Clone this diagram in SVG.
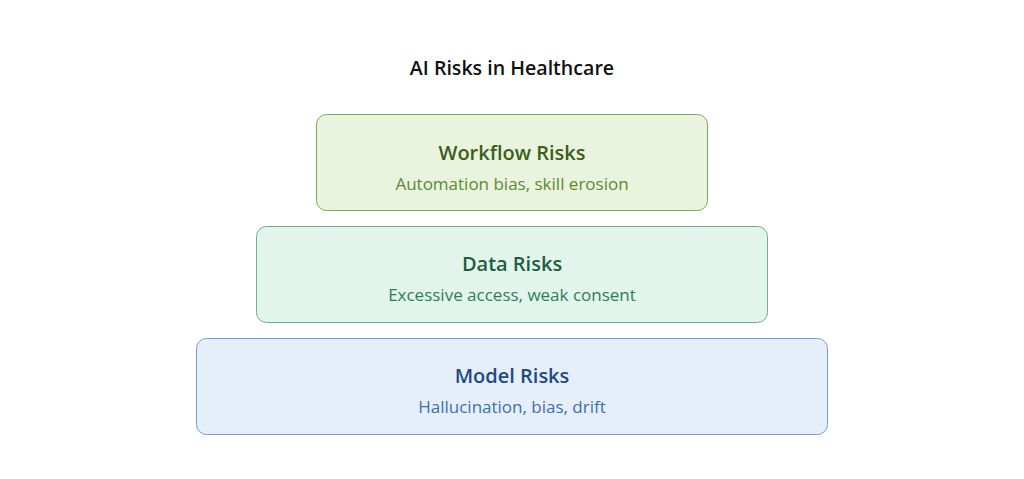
<svg xmlns="http://www.w3.org/2000/svg" width="1024" height="479" viewBox="0 0 1024 479">
<style>
text{font-family:"Open Sans","Noto Sans","DejaVu Sans",sans-serif;text-anchor:middle}
.t{font-size:20px;font-weight:600}
.s{font-size:17px}
.title{font-size:19.6px;font-weight:600;fill:#111}
</style>
<rect width="1024" height="479" fill="#fff"/>
<text class="title" x="512" y="75">AI Risks in Healthcare</text>
<g id="workflow">
<rect x="316.5" y="114.5" width="391" height="96" rx="10" fill="#eaf3dd" stroke="#7ea85a"/>
<text class="t" x="512" y="160" fill="#3a5e1c">Workflow Risks</text>
<text class="s" x="512" y="190" fill="#5b8a32">Automation bias, skill erosion</text>
</g>
<g id="data">
<rect x="256.5" y="226.5" width="511" height="96" rx="10" fill="#e2f5ec" stroke="#6fae8a"/>
<text class="t" x="512" y="271" fill="#1c5e3e">Data Risks</text>
<text class="s" x="512" y="301" fill="#2f7d57">Excessive access, weak consent</text>
</g>
<g id="model">
<rect x="196.5" y="338.5" width="631" height="96" rx="10" fill="#e6eff9" stroke="#6e9ed6"/>
<text class="t" x="512" y="383" fill="#1c4a86">Model Risks</text>
<text class="s" x="512" y="413" fill="#3a6fb2">Hallucination, bias, drift</text>
</g>
<g id="connectors"/>
</svg>
